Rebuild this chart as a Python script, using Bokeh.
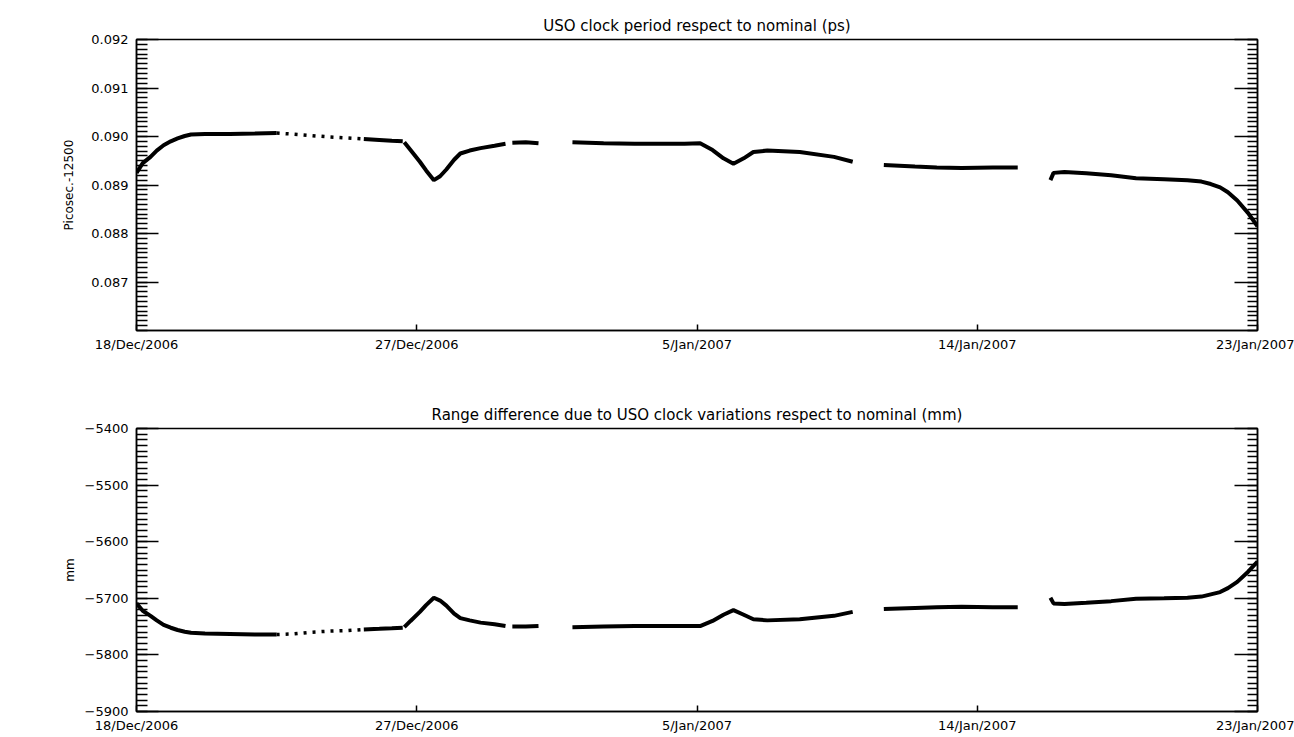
import math
from bokeh.plotting import figure
from bokeh.layouts import column
from bokeh.models import FixedTicker, LinearAxis, Range1d
from bokeh.embed import file_html
from bokeh.resources import INLINE

# ---------------- data (days since 18 Dec 2006 00:00) ----------------
date_ticks = [0, 9, 18, 27, 36]
date_labels = ["18/Dec/2006", "27/Dec/2006", "5/Jan/2007", "14/Jan/2007", "23/Jan/2007"]

# segment id for each sample (segment 1 = sparse samples)
segment = [0]*13 + [1]*6 + [2]*4 + [3]*13 + [4]*3 + [5]*15 + [6]*6 + [7]*15

day = [0.0, 0.2, 0.45, 0.65, 0.87, 1.1, 1.32, 1.55, 1.75, 2.2, 3.0, 3.8, 4.5,
       4.5, 5.0, 5.6, 6.2, 6.8, 7.3,
       7.3, 7.8, 8.2, 8.55,
       8.6, 8.8, 9.1, 9.3, 9.55, 9.75, 9.95, 10.2, 10.4, 10.7, 11.05, 11.5, 11.85,
       12.07, 12.5, 12.91,
       14.0, 15.0, 16.0, 17.0, 17.6, 18.1, 18.5, 18.85, 19.17, 19.5, 19.81, 20.26, 21.3, 22.4, 23.0,
       24.0, 25.0, 25.7, 26.5, 27.5, 28.3,
       29.35, 29.45, 29.8, 30.5, 31.3, 32.1, 33.0, 33.75, 34.2, 34.5, 34.8, 35.05, 35.35, 35.7, 36.0]

period_ps = [0.08925, 0.08945, 0.08958, 0.08971, 0.08982, 0.08990, 0.08996, 0.09001, 0.09004, 0.09005, 0.09005, 0.09006, 0.09007,
             0.09007, 0.09005, 0.09002, 0.08999, 0.08997, 0.08995,
             0.08995, 0.08993, 0.08991, 0.08990,
             0.08988, 0.08972, 0.08948, 0.08930, 0.08910, 0.08918, 0.08932, 0.08952, 0.08965, 0.08971, 0.08976, 0.08981, 0.08985,
             0.08987, 0.08988, 0.08986,
             0.08988, 0.08986, 0.08985, 0.08985, 0.08985, 0.08986, 0.08972, 0.08955, 0.08944, 0.08955, 0.08968, 0.08971, 0.08968, 0.08958, 0.08948,
             0.08941, 0.08938, 0.08936, 0.08935, 0.08936, 0.08936,
             0.08910, 0.08925, 0.08927, 0.08924, 0.08920, 0.08914, 0.08912, 0.08910, 0.08907, 0.08902, 0.08895, 0.08885, 0.08868, 0.08842, 0.08815]

range_mm = [-5709, -5722, -5731, -5739, -5747, -5752, -5756, -5759, -5761, -5762, -5763, -5764, -5764,
            -5764, -5763, -5760, -5758, -5757, -5755,
            -5755, -5754, -5753, -5752,
            -5751, -5740, -5724, -5712, -5699, -5704, -5713, -5727, -5735, -5739, -5743, -5746, -5749,
            -5750, -5750, -5749,
            -5751, -5750, -5749, -5749, -5749, -5749, -5740, -5729, -5721, -5729, -5737, -5739, -5737, -5731, -5724,
            -5719, -5717, -5716, -5715, -5716, -5716,
            -5699, -5709, -5710, -5708, -5705, -5701, -5700, -5699, -5697, -5693, -5689, -5682, -5671, -5653, -5635]

top_major = [0.087, 0.088, 0.089, 0.090, 0.091, 0.092]
top_labels = ["0.087", "0.088", "0.089", "0.090", "0.091", "0.092"]
bot_major = [-5900, -5800, -5700, -5600, -5500, -5400]
bot_labels = ["\u22125900", "\u22125800", "\u22125700", "\u22125600", "\u22125500", "\u22125400"]

FONT = "DejaVu Sans"


def make_fig(title, ys, ye, major, labels, ylabel, height, btop, bbot, label_standoff):
    p = figure(width=1294, height=height, output_backend="svg", toolbar_location=None,
               x_range=Range1d(0, 36), y_range=Range1d(ys, ye),
               min_border_left=136, min_border_right=37,
               min_border_top=btop, min_border_bottom=bbot)
    p.title.text = title
    p.title.align = "center"
    p.title.text_font = FONT
    p.title.text_font_style = "normal"
    p.title.text_font_size = "15px"
    p.title.text_color = "black"
    p.title.standoff = 10
    p.grid.visible = False
    p.outline_line_color = "black"
    p.outline_line_width = 1.5
    p.background_fill_color = "white"
    p.border_fill_color = "white"

    step = (major[1] - major[0]) / 10.0
    allmaj = [major[0] - (major[1] - major[0])] + list(major)
    minor = [round(allmaj[0] + i * step, 6) for i in range(0, 61)]
    tk = FixedTicker(ticks=list(major), minor_ticks=minor)

    ya = p.yaxis[0]
    ya.ticker = tk
    ya.major_label_overrides = {v: s for v, s in zip(major, labels)}
    ya.major_tick_in = 22
    ya.major_tick_out = 0
    ya.minor_tick_in = 11
    ya.minor_tick_out = 0
    ya.axis_line_width = 1.5
    ya.axis_line_color = "black"
    ya.major_tick_line_width = 1.5
    ya.minor_tick_line_width = 1.5
    ya.major_tick_line_color = "black"
    ya.minor_tick_line_color = "black"
    ya.major_label_text_font = FONT
    ya.major_label_text_font_size = "13px"
    ya.major_label_text_color = "black"
    ya.major_label_standoff = 8
    ya.axis_label = ylabel
    ya.axis_label_text_font = FONT
    ya.axis_label_text_font_size = "12px"
    ya.axis_label_text_font_style = "normal"
    ya.axis_label_text_color = "black"
    ya.axis_label_standoff = label_standoff

    ra = LinearAxis(ticker=tk)
    ra.major_label_overrides = {v: "" for v in major}
    ra.major_tick_in = 23
    ra.major_tick_out = 0
    ra.minor_tick_in = 10
    ra.minor_tick_out = 0
    ra.axis_line_width = 1.5
    ra.axis_line_color = "black"
    ra.major_tick_line_width = 1.5
    ra.minor_tick_line_width = 1.5
    ra.major_tick_line_color = "black"
    ra.minor_tick_line_color = "black"
    ra.major_label_standoff = 0
    p.add_layout(ra, "right")

    xa = p.xaxis[0]
    xa.ticker = FixedTicker(ticks=date_ticks, minor_ticks=[])
    xa.major_label_overrides = {v: s for v, s in zip(date_ticks, date_labels)}
    xa.major_tick_in = 6
    xa.major_tick_out = 0
    xa.axis_line_width = 1.5
    xa.axis_line_color = "black"
    xa.major_tick_line_width = 1.5
    xa.major_tick_line_color = "black"
    xa.major_label_text_font = FONT
    xa.major_label_text_font_size = "13px"
    xa.major_label_text_color = "black"
    xa.major_label_standoff = 6
    return p


def draw(p, yvals):
    segs = sorted(set(segment))
    for s in segs:
        xs = [d for d, g in zip(day, segment) if g == s]
        ys = [v for v, g in zip(yvals, segment) if g == s]
        if s == 1:
            p.line(xs, ys, line_color="black", line_width=3.5, line_dash="3 6")
        else:
            p.line(xs, ys, line_color="black", line_width=4)


p1 = make_fig("USO clock period respect to nominal (ps)", 0.086, 0.092, top_major, top_labels,
              "Picosec.-12500", 375, 39, 45, 12)
draw(p1, period_ps)

p2 = make_fig("Range difference due to USO clock variations respect to nominal (mm)", -5900, -5400,
              bot_major, bot_labels, "mm", 362, 53, 26, 5)
draw(p2, range_mm)

layout = column(p1, p2, spacing=0)
open("out.html", "w").write(file_html(layout, INLINE))
